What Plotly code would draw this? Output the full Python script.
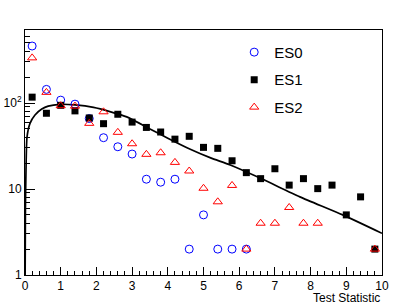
import plotly.graph_objects as go

# bin centres (25 bins of width 0.4 over 0..10)
x_es0 = [0.2, 0.6, 1.0, 1.4, 1.8, 2.2, 2.6, 3.0, 3.4, 3.8, 4.2, 4.6, 5.0, 5.4, 5.8, 6.2]
y_es0 = [460, 144, 108, 97, 66, 39.5, 31, 25.5, 13, 12, 13, 2, 5, 2, 2, 2]

x_es1 = [0.2, 0.6, 1.0, 1.4, 1.8, 2.2, 2.6, 3.0, 3.4, 3.8, 4.2, 4.6, 5.0, 5.4, 5.8, 6.2,
         6.6, 7.0, 7.4, 7.8, 8.2, 8.6, 9.0, 9.4, 9.8]
y_es1 = [117, 76, 94, 81, 67, 57.5, 74, 60, 52, 46, 38, 41, 30.5, 29.7, 21.3, 15.5,
         13.2, 17.2, 11.1, 13.2, 10.1, 11.1, 5, 8.1, 2]

x_es2 = [0.2, 0.6, 1.0, 1.4, 1.8, 2.2, 2.6, 3.0, 3.4, 3.8, 4.2, 4.6, 5.0, 5.4, 5.8, 6.2,
         6.6, 7.0, 7.4, 7.8, 8.2, 9.8]
y_es2 = [335, 133, 93, 92, 58, 79, 45.6, 33.6, 25.3, 26.4, 20.4, 16.2, 10.2, 7.1, 11, 2,
         4, 4, 6.1, 4, 4, 2]

# curve values
x_curve = [0.004, 0.012, 0.028, 0.056, 0.14, 0.28, 0.47, 0.65, 0.98, 1.4, 1.92, 2.4,
           2.85, 3.5, 4.0, 4.63, 5.2, 5.75, 6.6, 7.7, 8.9, 10.0]
y_curve = [1.0, 6, 16.6, 40, 58, 72.5, 85, 92, 96.5, 95, 89, 79,
           69, 50, 39, 29, 23, 19, 13.3, 8.1, 5.0, 3.05]

series_names = ["ES0", "ES1", "ES2"]

y_tickvals = [1, 10, 100]
y_ticktext = ["1", "10", "10<sup>2</sup>"]
x_tickvals = list(range(0, 11))

FONT = "Liberation Sans, Arial, Helvetica, sans-serif"

fig = go.Figure()

fig.add_trace(go.Scatter(x=x_curve, y=y_curve, mode="lines",
                         line=dict(color="black", width=1.7, shape="spline", smoothing=0.6),
                         showlegend=False, hoverinfo="skip"))

fig.add_trace(go.Scatter(x=x_es0, y=y_es0, mode="markers", name=series_names[0],
                         legendgroup="a",
                         marker=dict(symbol="circle-open", size=8, color="#0000ff",
                                     line=dict(width=1, color="#0000ff"))))
fig.add_trace(go.Scatter(x=x_es1, y=y_es1, mode="markers", name=series_names[1],
                         legendgroup="b",
                         marker=dict(symbol="square", size=7, color="black")))
fig.add_trace(go.Scatter(x=x_es2, y=y_es2, mode="markers", name=series_names[2],
                         legendgroup="c",
                         marker=dict(symbol="triangle-up-open", size=8, color="#ff0000",
                                     line=dict(width=1, color="#ff0000"))))

fig.update_layout(
    width=415, height=306,
    margin=dict(l=25, r=33, t=30, b=31, autoexpand=False),
    paper_bgcolor="white", plot_bgcolor="white",
    font=dict(family=FONT, color="black", size=12),
    legend=dict(x=0.586, y=0.976, xanchor="left", yanchor="top",
                bgcolor="rgba(0,0,0,0)", borderwidth=0,
                font=dict(size=15, family=FONT), tracegroupgap=5),
    xaxis=dict(range=[0, 10], showgrid=False, zeroline=False, automargin=False,
               showline=True, linecolor="black", linewidth=1, mirror=True,
               ticks="inside", ticklen=8, tickcolor="black", tickwidth=1,
               tickmode="array", tickvals=x_tickvals,
               tickfont=dict(size=12, family=FONT),
               minor=dict(ticks="inside", ticklen=4, dtick=0.2, tickcolor="black", showgrid=False)),
    yaxis=dict(type="log", range=[0, 2.849], showgrid=False, zeroline=False, automargin=False,
               showline=True, linecolor="black", linewidth=1, mirror=True,
               ticks="inside", ticklen=10, tickcolor="black", tickwidth=1,
               tickmode="array", tickvals=y_tickvals, ticktext=y_ticktext,
               tickfont=dict(size=12, family=FONT),
               minor=dict(ticks="inside", ticklen=5, tickcolor="black", showgrid=False,
                          tickmode="array",
                          tickvals=[2, 3, 4, 5, 6, 7, 8, 9, 20, 30, 40, 50, 60, 70, 80, 90,
                                    200, 300, 400, 500, 600, 700])),
    annotations=[dict(text="Test Statistic", xref="paper", yref="paper",
                      x=1, y=-23 / 245, xanchor="right", yanchor="middle",
                      showarrow=False, font=dict(size=12, family=FONT))],
)

fig.write_html("out.html", config={"displayModeBar": False},
               post_script="document.body.style.margin='0';document.body.style.overflow='hidden';")
